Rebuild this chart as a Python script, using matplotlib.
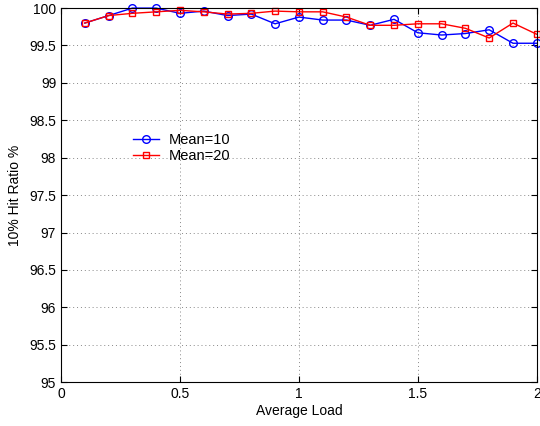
import matplotlib
matplotlib.use("Agg")
import matplotlib.pyplot as plt

plt.rcParams['font.family'] = ['Liberation Sans', 'DejaVu Sans']

load = [0.1, 0.2, 0.3, 0.4, 0.5, 0.6, 0.7, 0.8, 0.9, 1.0,
        1.1, 1.2, 1.3, 1.4, 1.5, 1.6, 1.7, 1.8, 1.9, 2.0]
mean10 = [99.80, 99.90, 100.0, 100.0, 99.93, 99.96, 99.90, 99.92, 99.79, 99.88,
          99.84, 99.84, 99.77, 99.85, 99.67, 99.64, 99.66, 99.71, 99.53, 99.53]
mean20 = [99.80, 99.90, 99.93, 99.95, 99.97, 99.95, 99.92, 99.93, 99.96, 99.95,
          99.95, 99.88, 99.77, 99.77, 99.79, 99.79, 99.73, 99.60, 99.80, 99.65]

fig = plt.figure(figsize=(5.4, 4.26), dpi=100)
ax = fig.add_axes([0.113, 0.103, 0.881, 0.878])
ax.plot(load, mean10, color='blue', marker='o', markersize=5.5, markerfacecolor='none',
        linewidth=1.0, markeredgewidth=1.0, label='Mean=10', clip_on=False)
ax.plot(load, mean20, color='red', marker='s', markersize=4.8, markerfacecolor='none',
        linewidth=1.0, markeredgewidth=1.0, label='Mean=20', clip_on=False)
ax.set_xlim(0, 2)
ax.set_ylim(95, 100)
ax.set_xticks([0, 0.5, 1, 1.5, 2])
ax.set_xticklabels(['0', '0.5', '1', '1.5', '2'])
ax.set_yticks([95 + 0.5 * i for i in range(11)])
ax.set_yticklabels(['95', '95.5', '96', '96.5', '97', '97.5', '98', '98.5', '99', '99.5', '100'])
ax.grid(True, linestyle=(0, (1, 3)), color='#888888', linewidth=0.7)
ax.tick_params(direction='in', labelsize=10, top=True, right=True, length=4)
ax.set_xlabel('Average Load', fontsize=10, labelpad=2)
ax.set_ylabel('10% Hit Ratio %', fontsize=10, labelpad=5)
ax.legend(loc='center left', bbox_to_anchor=(0.137, 0.626), frameon=False, fontsize=10.5,
          handlelength=1.75, handletextpad=0.7, labelspacing=0.15, borderpad=0)
fig.savefig('out.png', dpi=100)
